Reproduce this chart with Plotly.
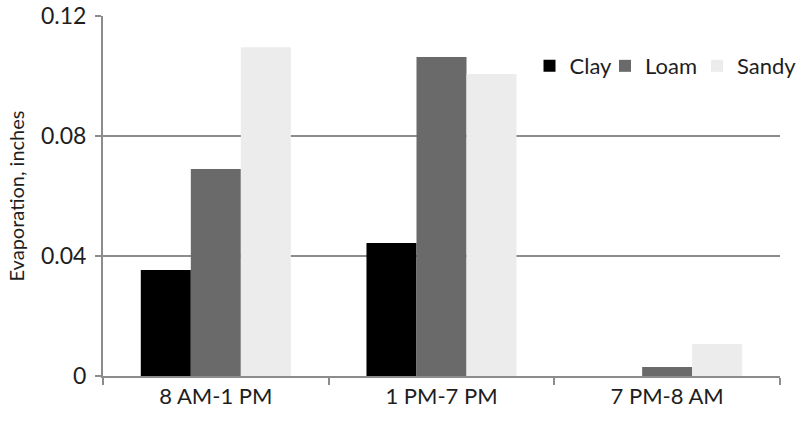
import plotly.graph_objects as go

periods = ["8 AM-1 PM", "1 PM-7 PM", "7 PM-8 AM"]
clay = [0.0353, 0.0443, 0.0]
loam = [0.069, 0.1063, 0.003]
sandy = [0.1096, 0.1007, 0.0107]
y_ticks = [0, 0.04, 0.08, 0.12]
y_tick_labels = ["0", "0.04", "0.08", "0.12"]

font_family = "Lato, 'Open Sans', sans-serif"
axis_grey = "#8c8c8c"

# one legend box per series so the key entries sit where they belong
series = [("Clay", clay, "#000000", "legend", 0.6300),
          ("Loam", loam, "#6a6a6a", "legend2", 0.7415),
          ("Sandy", sandy, "#ececec", "legend3", 0.8774)]

fig = go.Figure()
legend_layouts = {}
for name, vals, color, leg, lx in series:
    fig.add_trace(go.Bar(x=periods, y=vals, name=name, legend=leg,
                         marker=dict(color=color, line=dict(width=0))))
    legend_layouts[leg] = dict(x=lx, xanchor="left", y=0.861, yanchor="middle",
                               font=dict(size=22), itemwidth=30,
                               bgcolor="rgba(0,0,0,0)", borderwidth=0)

fig.update_layout(
    width=797, height=423,
    margin=dict(l=103, r=17, t=16, b=47, autoexpand=False),
    paper_bgcolor="white", plot_bgcolor="white",
    barmode="group", bargap=0.335, bargroupgap=0,
    font=dict(family=font_family, size=22, color="#1e1e1e"),
    showlegend=True,
    xaxis=dict(showline=True, linecolor=axis_grey, linewidth=2,
               ticks="outside", tickson="boundaries", ticklen=7,
               tickcolor=axis_grey, tickwidth=2,
               tickfont=dict(size=22), automargin=False),
    yaxis=dict(range=[0, 0.12], tickvals=y_ticks, ticktext=y_tick_labels,
               showgrid=True, gridcolor=axis_grey, gridwidth=1.5,
               showline=True, linecolor=axis_grey, linewidth=2,
               ticks="outside", ticklen=6, tickcolor=axis_grey, tickwidth=2,
               tickfont=dict(size=23), zeroline=False, automargin=False,
               ticklabelstandoff=4,
               title=dict(text="Evaporation, inches", font=dict(size=20), standoff=11)),
    **legend_layouts,
)

fig.write_html("out.html")
